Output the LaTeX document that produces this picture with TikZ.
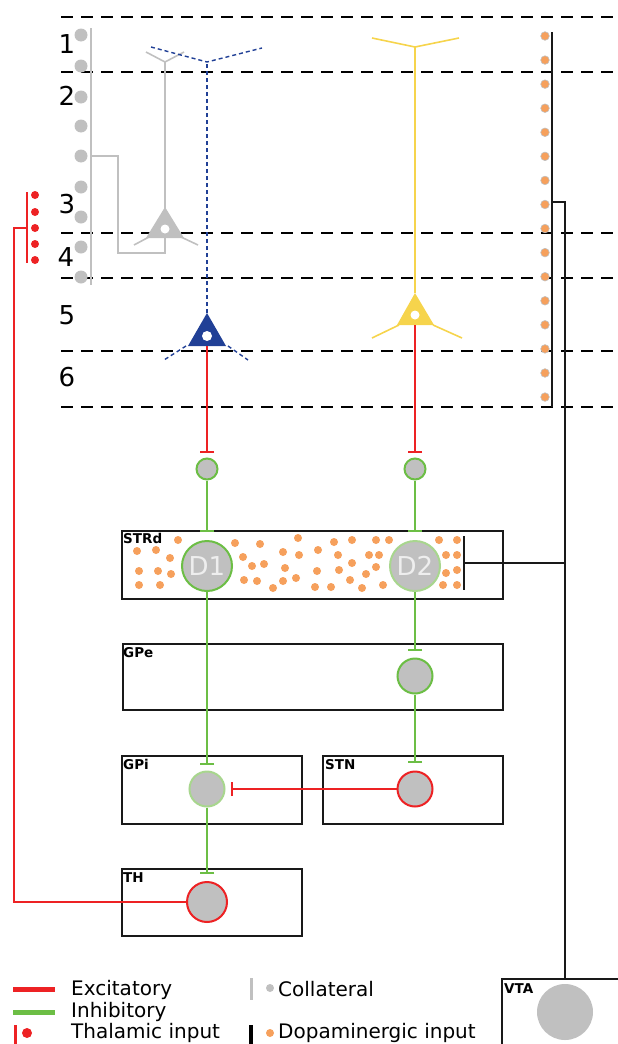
\documentclass[tikz,border=0pt]{standalone}
\usepackage{fontspec}
\setmainfont{DejaVu Sans}
\usetikzlibrary{arrows.meta}

\definecolor{exc}{RGB}{237,34,36}
\definecolor{inh}{RGB}{108,190,69}
\definecolor{inhlight}{RGB}{168,214,142}
\definecolor{soma}{RGB}{192,192,192}
\definecolor{dopa}{RGB}{246,160,92}
\definecolor{pyrblue}{RGB}{33,64,150}
\definecolor{pyryellow}{RGB}{246,212,76}
\definecolor{frame}{RGB}{25,25,25}
\definecolor{dtext}{RGB}{238,238,238}

\tikzset{
  layerline/.style={black, line width=1.8pt, dash pattern=on 12pt off 8pt},
  region/.style={draw=frame, line width=1.8pt, fill=white, inner sep=0pt, anchor=north west},
  regionlabel/.style={font=\bfseries\fontsize{13.5}{15}\selectfont, anchor=north west, inner sep=0pt},
  cell/.style={circle, fill=soma, inner sep=0pt, line width=2pt},
  excline/.style={draw=exc, line width=2pt},
  inhline/.style={draw=inh, line width=2pt},
  tbar/.style={-{Bar[width=14pt]}},
  dopaline/.style={draw=frame, line width=1.8pt},
  layernum/.style={font=\fontsize{26}{28}\selectfont, inner sep=0pt},
  legendtext/.style={font=\fontsize{20}{22}\selectfont, anchor=base west, inner sep=0pt},
  dendrite/.style={line width=1.6pt},
}

\begin{document}
\begin{tikzpicture}[x=1pt,y=-1pt]
\useasboundingbox (0,0) rectangle (618,1044);

% cortical layer boundaries
\foreach \yy in {17,72,233,278,351,407}
  \draw[layerline] (61,\yy) -- (618,\yy);

\node[layernum] (l1) at (67,44) {1};
\node[layernum] (l2) at (67,96) {2};
\node[layernum] (l3) at (67,204) {3};
\node[layernum] (l4) at (66,257) {4};
\node[layernum] (l5) at (67,315) {5};
\node[layernum] (l6) at (67,377) {6};

% layer 3 pyramidal cell with its collateral
\draw[soma, line width=2pt] (91,28) -- (91,285);
\foreach \yy in {35,66,97,126,156,187,217,247,277}
  \fill[soma] (81,\yy) circle (6.5);
\draw[soma, dendrite] (165,208) -- (165,62);
\draw[soma, dendrite] (146,52) -- (165,62) -- (184,52);
\draw[soma, dendrite] (149,237) -- (134,245);
\draw[soma, dendrite] (181,237) -- (198,245);
\draw[soma, line width=1.6pt] (165,238) -- (165,253) -- (118,253) -- (118,156) -- (91,156);
\fill[soma] (146,238) -- (165,207) -- (184,238) -- cycle;
\fill[white] (165,229) circle (4.5);

% layer 5 pyramidal cell (dashed dendrites)
\draw[pyrblue, line width=1.4pt, dash pattern=on 4pt off 3pt] (207,313) -- (207,62);
\draw[pyrblue, line width=1.4pt, dash pattern=on 4pt off 3pt] (151,47) -- (207,62) -- (262,48);
\draw[pyrblue, line width=1.4pt, dash pattern=on 4pt off 3pt] (186,346) -- (164,360);
\draw[pyrblue, line width=1.4pt, dash pattern=on 4pt off 3pt] (228,346) -- (248,360);
\fill[pyrblue] (188,346) -- (207,313) -- (226,346) -- cycle;
\fill[white] (207,336) circle (5);
\coordinate (bluebase) at (207,346);

% layer 5 pyramidal cell (yellow)
\draw[pyryellow, dendrite] (415,293) -- (415,47);
\draw[pyryellow, dendrite] (372,38) -- (415,47) -- (459,38);
\draw[pyryellow, dendrite] (399,325) -- (372,338);
\draw[pyryellow, dendrite] (433,325) -- (462,338);
\fill[pyryellow] (397,325) -- (415,293) -- (434,325) -- cycle;
\fill[white] (415,315) circle (4.5);
\coordinate (yellowbase) at (415,325);

% dopaminergic fibre in cortex
\coordinate (daxtop) at (552,32);
\coordinate (daxbot) at (552,407);
\coordinate (dabranch) at (552,202);
\draw[dopaline] (daxtop) -- (daxbot);
\foreach \k in {0,...,15}
  \filldraw[fill=dopa, draw=soma, line width=0.6pt] (545,36+24.07*\k) circle (4.3);

% thalamic input
\draw[exc, line width=2pt] (27,192) -- (27,263);
\foreach \yy in {195,212,228,244,260}
  \fill[exc] (35,\yy) circle (4);
\coordinate (thalbranch) at (27,228);

% basal ganglia regions
\node[region, minimum width=381pt, minimum height=68pt] (strdbox) at (121,530) {};
\node[region, minimum width=380pt, minimum height=66pt] (gpebox) at (122,643) {};
\node[region, minimum width=180pt, minimum height=68pt] (gpibox) at (121,755) {};
\node[region, minimum width=180pt, minimum height=68pt] (stnbox) at (322,755) {};
\node[region, minimum width=180pt, minimum height=67pt] (thbox) at (121,868) {};
\draw[frame, line width=1.5pt] (620,979) -| (502,1046);

\node[regionlabel] (strdlabel) at (123,533) {STRd};
\node[regionlabel] (gpelabel) at (123,647) {GPe};
\node[regionlabel] (gpilabel) at (123,759) {GPi};
\node[regionlabel] (stnlabel) at (325,759) {STN};
\node[regionlabel] (thlabel) at (123,872) {TH};
\node[regionlabel] (vtalabel) at (504,983) {VTA};

% striatal dopamine terminals
\foreach \p in {(178,540),(137,551),(156,550),(170,558),(139,571),(158,571),(171,574),(139,585),(160,585),
  (235,543),(260,544),(243,557),(252,566),(264,564),(244,580),(257,581),(273,588),(283,581),(283,552),
  (285,568),(296,578),(298,538),(299,555),(318,550),(317,571),(315,587),(331,587),(334,542),(352,540),
  (338,555),(339,570),(352,563),(350,580),(362,588),(366,574),(369,555),(379,555),(376,540),(389,540),
  (376,567),(383,585),(439,540),(457,540),(446,555),(457,555),(446,573),(457,570),(443,585),(457,585)}
  \fill[dopa] \p circle (4);
\coordinate (strdbartop) at (464,536);
\coordinate (strdbarbot) at (464,590);
\coordinate (strdbar) at (464,563);
\draw[dopaline] (strdbartop) -- (strdbarbot);

% cells
\node[cell, draw=inh, minimum size=21pt] (c1) at (207,469) {};
\node[cell, draw=inh, minimum size=21pt] (c2) at (415,469) {};
\node[cell, draw=inh, minimum size=50pt, font=\fontsize{26}{26}\selectfont, text=dtext] (d1) at (207,566) {D1};
\node[cell, draw=inhlight, minimum size=50pt, font=\fontsize{26}{26}\selectfont, text=dtext] (d2) at (415,566) {D2};
\node[cell, draw=inh, minimum size=35pt] (gpe) at (415,676) {};
\node[cell, draw=inhlight, minimum size=35pt] (gpi) at (207,789) {};
\node[cell, draw=exc, minimum size=35pt] (stn) at (415,789) {};
\node[cell, draw=exc, minimum size=40pt] (th) at (207,902) {};
\node[cell, minimum size=56pt] (vta) at (565,1012) {};
\coordinate (vtatop) at (565,979);

% projections
\draw[excline, tbar, shorten >=5pt] (bluebase) -- (c1);
\draw[excline, tbar, shorten >=5pt] (yellowbase) -- (c2);
\draw[inhline, tbar, shorten >=8pt] (c1) -- (d1);
\draw[inhline, tbar, shorten >=8pt] (c2) -- (d2);
\draw[inhline, tbar, shorten >=5.5pt] (d1) -- (gpi);
\draw[inhline, tbar, shorten >=6.5pt] (d2) -- (gpe);
\draw[inhline, tbar, shorten >=7.5pt] (gpe) -- (stn);
\draw[inhline, tbar, shorten >=7pt] (gpi) -- (th);
\draw[excline, tbar, shorten >=5.5pt] (stn) -- (gpi);
\draw[excline] (th.west) -| ([xshift=-13pt]thalbranch) -- (thalbranch);
\draw[dopaline] (dabranch) -| (vtatop);
\draw[dopaline] (strdbar) -- (strdbar -| vtatop);

% legend
\draw[exc, line width=5pt] (13,989) -- (55,989);
\draw[inh, line width=5pt] (13,1012) -- (55,1012);
\draw[exc, line width=3pt] (15,1025) -- (15,1044);
\fill[exc] (27,1033) circle (5);
\draw[soma, line width=3pt] (251,978) -- (251,1000);
\fill[soma] (270,988) circle (4);
\draw[black, line width=3.5pt] (251,1025) -- (251,1044);
\fill[dopa] (270,1033) circle (4);
\node[legendtext] (lexc) at (71,995) {Excitatory};
\node[legendtext] (linh) at (71,1017) {Inhibitory};
\node[legendtext] (lthal) at (71,1038) {Thalamic input};
\node[legendtext] (lcol) at (278,996) {Collateral};
\node[legendtext] (ldopa) at (278,1038) {Dopaminergic input};
\end{tikzpicture}
\end{document}
